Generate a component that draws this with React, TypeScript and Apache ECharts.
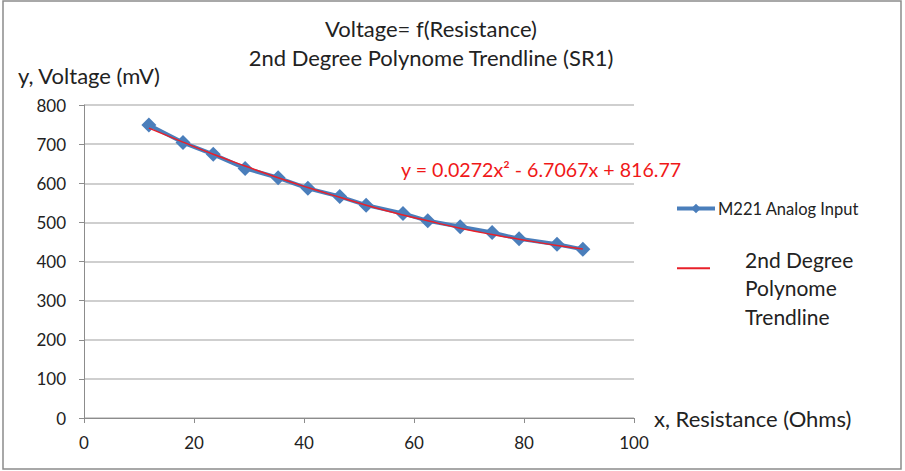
import React, { useEffect, useRef } from "react";
import * as echarts from "echarts";

const resistance = [11.8, 18.0, 23.5, 29.3, 35.3, 40.7, 46.5, 51.3, 58.0, 62.5, 68.4, 74.2, 79.1, 86.0, 90.7];
const voltage = [749, 704, 674, 638, 614, 587, 566, 544, 523, 504, 489, 474, 458, 444, 431];
const trendVoltage = [741, 705, 674, 644, 614, 589, 564, 544, 519, 504, 485, 469, 457, 441, 432];
const titleLines = ["Voltage= f(Resistance)", "2nd Degree Polynome Trendline (SR1)"];
const seriesNames = ["M221 Analog Input", "2nd Degree\nPolynome\nTrendline"];
const equation = "y = 0.0272x² - 6.7067x + 816.77";

const FONT = "Lato, 'Open Sans', sans-serif";

export default function App() {
  const ref = useRef<HTMLDivElement>(null);
  useEffect(() => {
    document.body.style.margin = "0";
    if (!ref.current) return;
    const chart = echarts.init(ref.current, null, { renderer: "svg" });
    chart.setOption({
      animation: false,
      backgroundColor: "#ffffff",
      textStyle: { fontFamily: FONT },
      title: {
        text: titleLines.join("\n"),
        left: 426,
        textAlign: "center",
        top: 9,
        textStyle: { fontFamily: FONT, fontSize: 22, fontWeight: "normal", color: "#222", lineHeight: 29 },
      },
      grid: { left: 84, right: 271, top: 105, bottom: 53 },
      legend: [
        {
          data: [seriesNames[0]],
          left: 670,
          top: 195,
          itemWidth: 38,
          itemHeight: 12,
          lineStyle: { width: 4 },
          textStyle: { fontFamily: FONT, fontSize: 16.5, color: "#222", padding: [0, 0, 0, -2] },
        },
        {
          data: [{ name: seriesNames[1], icon: "rect" }],
          left: 672,
          top: 220,
          itemWidth: 33,
          itemHeight: 2,
          formatter: (name: string) => "{gap| }\n{t|" + name + "}",
          textStyle: {
            fontFamily: FONT,
            fontSize: 21,
            color: "#222",
            padding: [0, 0, 0, 30],
            rich: {
              gap: { fontSize: 1, lineHeight: 39 },
              t: { fontFamily: FONT, fontSize: 21, color: "#222", lineHeight: 28.5 },
            },
          },
        },
      ],
      xAxis: {
        type: "value",
        min: 0,
        max: 100,
        interval: 20,
        name: "x, Resistance (Ohms)",
        nameLocation: "end",
        nameGap: 20,
        nameTextStyle: { fontFamily: FONT, fontSize: 22, color: "#222", verticalAlign: "middle" },
        axisLine: { show: true, onZero: false, lineStyle: { color: "#8c8c8c", width: 1 } },
        axisTick: { show: true, length: 5, inside: false, lineStyle: { color: "#8c8c8c" } },
        axisLabel: { fontFamily: FONT, fontSize: 17, color: "#222", margin: 16 },
        splitLine: { show: false },
      },
      yAxis: {
        type: "value",
        min: 0,
        max: 800,
        interval: 100,
        name: "y, Voltage (mV)",
        nameLocation: "end",
        nameGap: 19,
        nameTextStyle: { fontFamily: FONT, fontSize: 22, color: "#222", align: "left", padding: [0, 0, 0, -66] },
        axisLine: { show: true, lineStyle: { color: "#8c8c8c", width: 1 } },
        axisTick: { show: true, length: 5, lineStyle: { color: "#8c8c8c" } },
        axisLabel: { fontFamily: FONT, fontSize: 17, color: "#222", margin: 18 },
        splitLine: { show: true, lineStyle: { color: "#bfbfbf", width: 1.5 } },
      },
      series: [
        {
          name: seriesNames[0],
          type: "line",
          data: resistance.map((x, i) => [x, voltage[i]]),
          symbol: "diamond",
          symbolSize: 15,
          lineStyle: { color: "#4a7ebb", width: 4 },
          itemStyle: { color: "#4a7ebb" },
          z: 2,
        },
        {
          name: seriesNames[1],
          type: "line",
          data: resistance.map((x, i) => [x, trendVoltage[i]]),
          smooth: true,
          symbol: "none",
          lineStyle: { color: "#e8202a", width: 1.5 },
          itemStyle: { color: "#e8202a" },
          z: 3,
        },
      ],
      graphic: [
        {
          type: "rect",
          shape: { x: 3, y: 1, width: 898, height: 468 },
          style: { fill: "none", stroke: "#8c8c8c", lineWidth: 1.5 },
          silent: true,
        },
        {
          type: "text",
          x: 401,
          y: 169,
          style: { text: equation, fontFamily: FONT, fontSize: 19.6, fill: "#f01818", verticalAlign: "middle" },
        },
      ],
    });
    return () => chart.dispose();
  }, []);
  return <div ref={ref} style={{ width: 905, height: 471 }} />;
}
